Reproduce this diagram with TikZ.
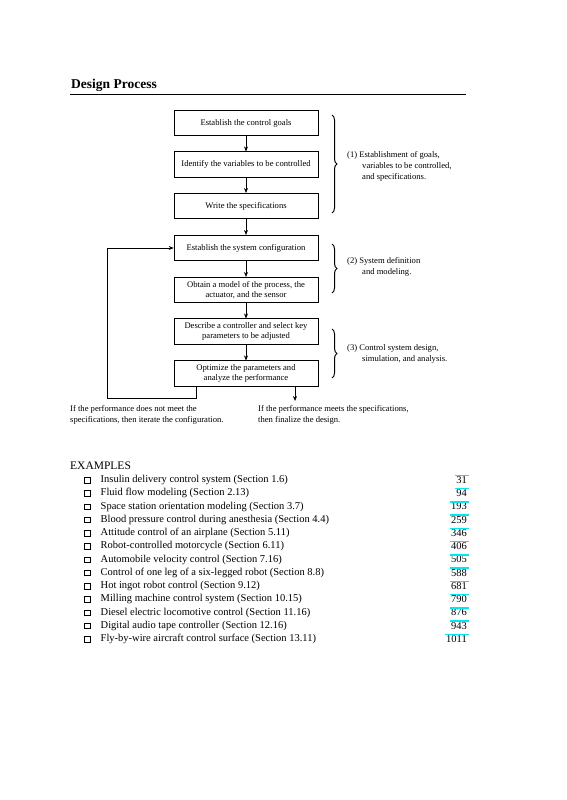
\documentclass[tikz,border=0pt]{standalone}
\usepackage{fontspec}
\setmainfont{Liberation Serif}
\usetikzlibrary{arrows.meta,decorations.pathreplacing,shadows}
\definecolor{hlcyan}{RGB}{0,232,242}
\begin{document}
\begin{tikzpicture}[x=1pt,y=-1pt,
  stepbox/.style={draw, line width=0.6pt, minimum width=144pt, minimum height=25.5pt, inner sep=1pt, align=center, font=\fontsize{8.6}{10.5}\selectfont},
  arr/.style={-{Stealth[length=5pt,width=4pt]}, line width=0.6pt},
  lbl/.style={font=\fontsize{8.6}{11}\selectfont, align=left, inner sep=0pt, anchor=north west},
  br/.style={decorate, decoration={brace, amplitude=5pt}, line width=1pt},
  item/.style={font=\fontsize{10.5}{12}\selectfont, inner sep=0pt, anchor=west},
  num/.style={font=\fontsize{10.5}{12}\selectfont, inner sep=0pt, anchor=east},
  cbox/.style={draw, fill=white, minimum size=5.5pt, inner sep=0pt, line width=0.5pt, drop shadow={shadow xshift=0.9pt, shadow yshift=-0.9pt, fill=black, opacity=1}},
  hl/.style={draw=hlcyan, line width=1.3pt}
]
\useasboundingbox[fill=white] (0,0) rectangle (567,800);

% title and rule
\node[font=\bfseries\fontsize{13.5}{15}\selectfont, anchor=base west, inner sep=0pt] (title) at (71,88.5) {Design Process};
\coordinate (rl) at (70,94.5);
\coordinate (rr) at (466,94.5);
\draw[line width=0.9pt] (rl) -- (rr);

% boxes
\node[stepbox] (b1) at (246,123) {Establish the control goals};
\node[stepbox] (b2) at (246,164.5) {Identify the variables to be controlled};
\node[stepbox] (b3) at (246,206) {Write the specifications};
\node[stepbox] (b4) at (246,248) {Establish the system configuration};
\node[stepbox] (b5) at (246,290) {Obtain a model of the process, the\\actuator, and the sensor};
\node[stepbox] (b6) at (246,331.5) {Describe a controller and select key\\parameters to be adjusted};
\node[stepbox] (b7) at (246,373.5) {Optimize the parameters and\\analyze the performance};

\draw[arr] (b1) -- (b2);
\draw[arr] (b2) -- (b3);
\draw[arr] (b3) -- (b4);
\draw[arr] (b4) -- (b5);
\draw[arr] (b5) -- (b6);
\draw[arr] (b6) -- (b7);

% feedback loop and exit
\coordinate (fb) at (196,398);
\coordinate (fbl) at (107,398);
\draw[arr] (b7.south -| fb) -- (fb) -- (fbl) |- (b4.west);
\coordinate (ex) at (295,401);
\draw[arr] (b7.south -| ex) -- (ex);

% bottom texts
\node[lbl] (fail) at (70,405.5) {If the performance does not meet the\\specifications, then iterate the configuration.};
\node[lbl] (pass) at (258,405.5) {If the performance meets the specifications,\\then finalize the design.};

% braces
\coordinate (br1a) at (332,115);
\coordinate (br1b) at (332,213);
\coordinate (br2a) at (332,244);
\coordinate (br2b) at (332,293);
\coordinate (br3a) at (332,329);
\coordinate (br3b) at (332,378);
\draw[br] (br1a) -- (br1b);
\draw[br] (br2a) -- (br2b);
\draw[br] (br3a) -- (br3b);

\node[lbl] (l1) at (347,151.5) {(1) Establishment of goals,\\\hspace*{15pt}variables to be controlled,\\\hspace*{15pt}and specifications.};
\node[lbl] (l2) at (347,257.5) {(2) System definition\\\hspace*{15pt}and modeling.};
\node[lbl] (l3) at (347,344.5) {(3) Control system design,\\\hspace*{15pt}simulation, and analysis.};

% examples
\node[font=\fontsize{11.5}{13}\selectfont, anchor=west, inner sep=0pt] (exh) at (70,466) {EXAMPLES};
\foreach \t/\n [count=\i from 0] in {
  {Insulin delivery control system (Section 1.6)}/31,
  {Fluid flow modeling (Section 2.13)}/94,
  {Space station orientation modeling (Section 3.7)}/193,
  {Blood pressure control during anesthesia (Section 4.4)}/259,
  {Attitude control of an airplane (Section 5.11)}/346,
  {Robot-controlled motorcycle (Section 6.11)}/406,
  {Automobile velocity control (Section 7.16)}/505,
  {Control of one leg of a six-legged robot (Section 8.8)}/588,
  {Hot ingot robot control (Section 9.12)}/681,
  {Milling machine control system (Section 10.15)}/790,
  {Diesel electric locomotive control (Section 11.16)}/876,
  {Digital audio tape controller (Section 12.16)}/943,
  {Fly-by-wire aircraft control surface (Section 13.11)}/1011}{
  \pgfmathsetmacro\yy{480+13.25*\i}
  \node[cbox] (cb\i) at (87,\yy) {};
  \node[item] (it\i) at (100.5,\yy) {\t};
  \node[num] (nu\i) at (467,\yy) {\n};
  \draw[hl] ([xshift=-1pt,yshift=0.9pt]nu\i.north west) -- ([xshift=1.5pt,yshift=0.9pt]nu\i.north east);
}
\end{tikzpicture}
\end{document}
